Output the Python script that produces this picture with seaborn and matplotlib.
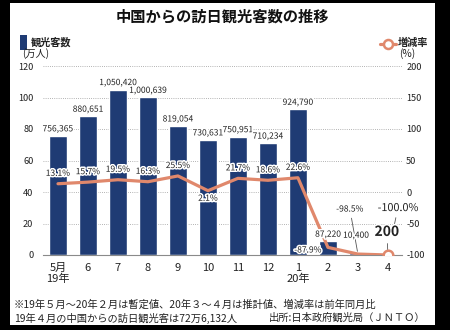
import numpy as np
import pandas as pd
import matplotlib
matplotlib.use("Agg")
import matplotlib.pyplot as plt
import seaborn as sns
from matplotlib import patheffects as pe
from matplotlib.patches import Rectangle
from matplotlib.lines import Line2D

# --- data -----------------------------------------------------------------
months = ["5月", "6", "7", "8", "9", "10", "11", "12", "1", "2", "3", "4"]
year_marks = {0: "19年", 8: "20年"}
visitors = [756365, 880651, 1050420, 1000639, 819054, 730631,
            750951, 710234, 924790, 87220, 10400, 200]
rate = [13.1, 15.7, 19.5, 16.3, 25.5, 2.1, 21.7, 18.6, 22.6, -87.9, -98.5, -100.0]
left_ticks = [0, 20, 40, 60, 80, 100, 120]
right_ticks = [-100, -50, 0, 50, 100, 150, 200]

NAVY = "#1f3b74"
ORANGE = "#e0886c"
TXT = "#222222"
LBL = 6.1

sns.set_theme(style="white")
plt.rcParams["font.family"] = ["Noto Sans CJK JP", "DejaVu Sans"]

df = pd.DataFrame({
    "pos": np.arange(len(months)),
    "month": months,
    "man": np.array(visitors) / 1e4,
    "rate": rate,
})

W, H = 450, 330
fig = plt.figure(figsize=(W / 100, H / 100), dpi=100, facecolor="black")
fig.patches.append(Rectangle((10 / W, 5 / H), 425 / W, 322 / H,
                             transform=fig.transFigure, facecolor="white",
                             edgecolor="none", zorder=-5))


def fx(px):
    return px / W


def fy(py):
    return 1 - py / H


halo = [pe.withStroke(linewidth=2.2, foreground="white")]

ax = fig.add_axes([fx(43), fy(255), 359 / W, 189 / H])
ax.patch.set_visible(False)
sns.barplot(data=df, x="pos", y="man", native_scale=True, color=NAVY,
            saturation=1, width=0.6, ax=ax, zorder=2)
ax.set_xlim(-0.5, 11.47)
ax.set_ylim(0, 120)
ax.set_yticks(left_ticks)
ax.set_yticklabels([str(t) for t in left_ticks], fontsize=6.6, color=TXT)
ax.set_xticks(df["pos"])
ax.set_xticklabels(months, fontsize=8, color=TXT)
ax.tick_params(axis="both", length=0)
ax.tick_params(axis="x", pad=6)
ax.tick_params(axis="y", pad=7)
ax.set_xlabel("")
ax.set_ylabel("")
ax.yaxis.grid(True, linestyle=(0, (1, 1.6)), color="#9a9a9a", lw=0.6)
ax.set_axisbelow(True)
for s in ["top", "left", "right"]:
    ax.spines[s].set_visible(False)
ax.spines["bottom"].set_color("#8a8a8a")
ax.spines["bottom"].set_linewidth(0.8)

for i, lab in year_marks.items():
    ax.annotate(lab, xy=(i, 0), xycoords=("data", "axes fraction"),
                xytext=(0, -17.5), textcoords="offset points",
                ha="center", va="center", fontsize=8, color=TXT)

# change-rate line on the right axis
ax2 = ax.twinx()
sns.lineplot(data=df, x="pos", y="rate", color=ORANGE, lw=2.3, ax=ax2,
             zorder=3)
sns.scatterplot(x=df["pos"].iloc[-1:], y=df["rate"].iloc[-1:], ax=ax2,
                s=48, color="white", edgecolor=ORANGE, linewidth=1.8,
                zorder=4)
ax2.set_ylim(-100, 200)
ax2.set_yticks(right_ticks)
ax2.set_yticklabels([str(t) for t in right_ticks], fontsize=6.6, color=TXT)
ax2.tick_params(axis="y", length=0, pad=3)
ax2.set_xlabel("")
ax2.set_ylabel("")
for s in ax2.spines.values():
    s.set_visible(False)
ax2.set_xlim(-0.5, 11.47)

# visitor labels above the bars (drawn on top of the line)
bar_xy = ax.transData
for i, v in enumerate(visitors[:10]):
    ax2.annotate(f"{v:,}", xy=(i, v / 1e4), xycoords=bar_xy,
                 xytext=(0, 1.8), textcoords="offset points",
                 ha="center", va="bottom", fontsize=LBL, color=TXT,
                 path_effects=halo, zorder=6)

ax2.annotate(f"{visitors[10]:,}", xy=(10, visitors[10] / 1e4),
             xycoords=bar_xy, xytext=(-1.4, 13), textcoords="offset points",
             ha="center", va="center", fontsize=LBL, color=TXT,
             path_effects=halo, zorder=7)
ax2.annotate(f"{visitors[11]:,}", xy=(11, visitors[11] / 1e4),
             xycoords=bar_xy, xytext=(-0.7, 16.6), textcoords="offset points",
             ha="center", va="center", fontsize=10, fontweight="bold",
             color=TXT, path_effects=halo, zorder=7,
             arrowprops=dict(arrowstyle="-", color="#555555", lw=0.6,
                             shrinkA=1, shrinkB=4))

for i, r in enumerate(rate[:9]):
    dy = -5.5 if i == 5 else 7.5
    ax2.annotate(f"{r}%", xy=(i, r), xytext=(0, dy), textcoords="offset points",
                 ha="center", va="center", fontsize=LBL, color=TXT,
                 path_effects=halo, zorder=6)

ax2.annotate(f"{rate[9]}%", xy=(9, rate[9]), xytext=(-14.4, -1.9),
             textcoords="offset points", ha="center", va="center",
             fontsize=LBL, color=TXT, path_effects=halo, zorder=6)
ax2.annotate(f"{rate[10]}%", xy=(10, rate[10]), xytext=(-5.8, 32.4),
             textcoords="offset points", ha="center", va="center",
             fontsize=LBL, color=TXT, path_effects=halo, zorder=5,
             arrowprops=dict(arrowstyle="-", color="#555555", lw=0.6,
                             shrinkA=1, shrinkB=2))
ax2.annotate(f"{rate[11]:.1f}%", xy=(11, rate[11]), xytext=(7.2, 33.8),
             textcoords="offset points", ha="center", va="center",
             fontsize=7.8, color=TXT, path_effects=halo, zorder=5,
             arrowprops=dict(arrowstyle="-", color="#555555", lw=0.6,
                             shrinkA=1, shrinkB=23))

# legends
fig.patches.append(Rectangle((fx(20), fy(50)), 7 / W, 15 / H,
                             transform=fig.transFigure, facecolor=NAVY,
                             edgecolor="none", zorder=3))
fig.text(fx(31), fy(43), "観光客数", fontsize=7.3, color=TXT,
         ha="left", va="center", fontweight="bold")
fig.text(fx(22), fy(54), "(万人)", fontsize=7.3, color=TXT,
         ha="left", va="center")
fig.lines.append(Line2D([fx(380), fx(396)], [fy(44), fy(44)],
                        transform=fig.transFigure, color=ORANGE, lw=2.3))
fig.lines.append(Line2D([fx(388)], [fy(44)], transform=fig.transFigure,
                        marker="o", markersize=6.5, markerfacecolor="white",
                        markeredgecolor=ORANGE, markeredgewidth=1.8))
fig.text(fx(398), fy(43), "増減率", fontsize=7.3, color=TXT,
         ha="left", va="center", fontweight="bold")
fig.text(fx(399), fy(54), "(%)", fontsize=7.3, color=TXT,
         ha="left", va="center")

# title and notes
fig.text(fx(222), fy(16), "中国からの訪日観光客数の推移", fontsize=11,
         fontweight="bold", color="#111111", ha="center", va="center")
fig.text(fx(14), fy(305),
         "※19年５月～20年２月は暫定値、20年３～４月は推計値、増減率は前年同月比",
         fontsize=7.4, color=TXT, ha="left", va="center")
fig.text(fx(14), fy(318), "19年４月の中国からの訪日観光客は72万6,132人",
         fontsize=7.4, color=TXT, ha="left", va="center")
fig.text(fx(426), fy(318), "出所:日本政府観光局（ＪＮＴＯ）",
         fontsize=7.4, color=TXT, ha="right", va="center")

fig.savefig("out.png", dpi=100, facecolor=fig.get_facecolor())
